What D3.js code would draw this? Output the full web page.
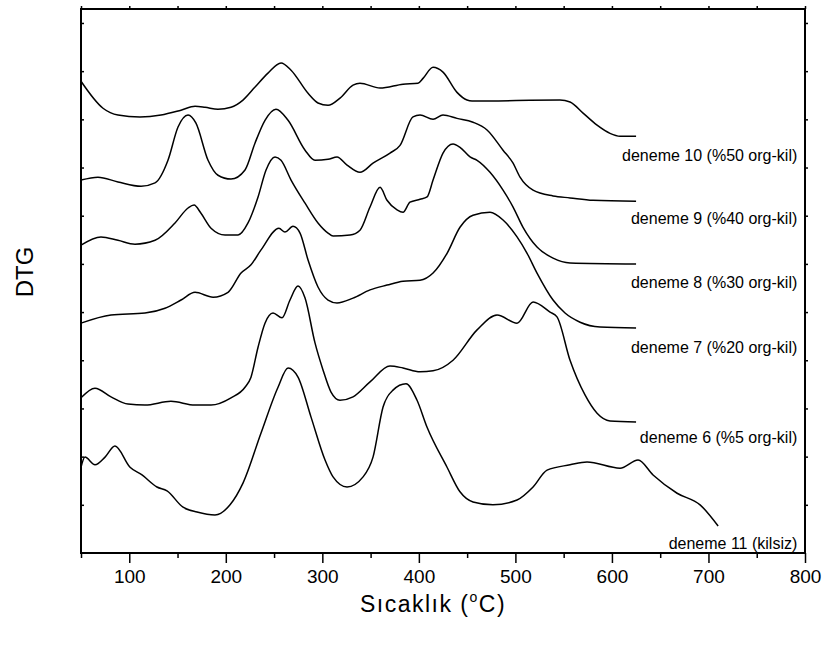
<!DOCTYPE html>
<html>
<head>
<meta charset="utf-8">
<script src="https://cdn.jsdelivr.net/npm/d3@7"></script>
<style>
  body { margin: 0; background: #fff; }
  text { font-family: "Liberation Sans", Arial, sans-serif; fill: #000; }
</style>
</head>
<body>
<svg id="chart" width="825" height="645"></svg>
<script>
// temperature (°C) and DTG values (stacked, arbitrary units)
const tempD10 = [50, 72.8, 88.3, 111.1, 132.9, 153.6, 168.1, 178.5, 191.9, 205.4, 217.8, 230.3, 243.7, 257.2, 267.6, 285.2, 295.5, 305.9, 318.3, 331.8, 339, 359.8, 383.6, 399.1, 404.3, 414.7, 425, 439.5, 449.9, 455.1, 546.2, 556.6, 570.1, 584.6, 598, 608.4, 625];
const dtgD10 = [9.79, 9.23, 9.09, 9.05, 9.09, 9.19, 9.27, 9.25, 9.21, 9.25, 9.40, 9.67, 9.96, 10.17, 10.02, 9.54, 9.34, 9.29, 9.44, 9.71, 9.75, 9.65, 9.73, 9.75, 9.85, 10.08, 9.98, 9.56, 9.40, 9.38, 9.40, 9.36, 9.13, 8.88, 8.71, 8.65, 8.65];

const tempD9 = [50, 67.6, 88.3, 112.2, 126.7, 140.1, 150.5, 160.9, 169.1, 181.6, 191.9, 205.4, 219.9, 230.3, 240.6, 252, 264.5, 282.1, 292.4, 305.9, 315.2, 325.6, 339, 352.5, 370.1, 380.5, 393.9, 401.2, 414.7, 425, 439.5, 456.1, 470.6, 487.2, 497.6, 504.8, 518.3, 539, 556.6, 580.4, 625];
const dtgD9 = [7.74, 7.80, 7.70, 7.61, 7.68, 8.15, 8.84, 9.09, 8.92, 8.15, 7.84, 7.76, 7.95, 8.51, 8.98, 9.21, 8.98, 8.36, 8.15, 8.17, 8.22, 8.05, 7.90, 8.09, 8.30, 8.46, 9.05, 9.09, 9.00, 9.09, 9.02, 8.94, 8.78, 8.36, 8.09, 7.80, 7.53, 7.41, 7.37, 7.32, 7.30];

const tempD8 = [50, 70.7, 88.3, 105.9, 126.7, 147.4, 160.9, 167.1, 174.3, 184.7, 199.2, 212.7, 223, 233.4, 241.7, 251, 257.2, 267.6, 282.1, 295.5, 305.9, 311.1, 328.7, 339, 349.4, 359.8, 367, 377.4, 383.6, 390.8, 401.2, 408.5, 414.7, 425, 435.4, 442.6, 453, 460.3, 473.7, 487.2, 497.6, 507.9, 522.4, 539, 556.6, 625];
const dtgD8 = [6.39, 6.56, 6.49, 6.41, 6.49, 6.85, 7.16, 7.22, 7.05, 6.74, 6.60, 6.60, 6.85, 7.39, 7.95, 8.22, 8.15, 7.74, 7.26, 6.85, 6.64, 6.58, 6.60, 6.70, 7.18, 7.59, 7.32, 7.12, 7.07, 7.28, 7.34, 7.39, 7.74, 8.30, 8.49, 8.42, 8.22, 8.15, 7.90, 7.53, 7.18, 6.76, 6.35, 6.12, 6.02, 6.00];

const tempD7 = [50, 81.1, 116.3, 137, 153.6, 168.1, 186.8, 202.3, 215.8, 226.1, 236.5, 255.1, 261.3, 269.6, 276.9, 285.2, 295.5, 305.9, 315.2, 331.8, 349.4, 367, 383.6, 401.2, 414.7, 429.2, 442.6, 456.1, 473.7, 487.2, 501.7, 512.1, 522.4, 539, 551.4, 567, 587.7, 625];
const dtgD7 = [4.77, 4.94, 4.98, 5.08, 5.25, 5.41, 5.31, 5.41, 5.81, 5.98, 6.29, 6.74, 6.66, 6.78, 6.64, 6.08, 5.52, 5.25, 5.19, 5.29, 5.46, 5.56, 5.64, 5.66, 5.81, 6.22, 6.76, 7.01, 7.07, 6.91, 6.56, 6.22, 5.81, 5.25, 4.98, 4.79, 4.69, 4.67];

const tempD6 = [50, 64.5, 81.1, 98.7, 116.3, 143.2, 168.1, 184.7, 205.4, 219.9, 226.1, 233.4, 240.6, 248.9, 258.2, 266.5, 274.8, 282.1, 292.4, 300.7, 309, 318.3, 331.8, 349.4, 370.1, 383.6, 401.2, 414.7, 435.4, 460.3, 481, 501.7, 518.3, 535.9, 543.1, 556.6, 572.1, 584.6, 598, 625];
const dtgD6 = [3.22, 3.42, 3.24, 3.09, 3.07, 3.15, 3.07, 3.07, 3.22, 3.44, 3.65, 4.27, 4.77, 4.98, 4.88, 5.25, 5.54, 5.29, 4.36, 3.80, 3.34, 3.17, 3.24, 3.55, 3.88, 3.84, 3.76, 3.78, 4.00, 4.63, 4.94, 4.77, 5.21, 5.00, 4.90, 4.00, 3.28, 2.90, 2.74, 2.72];

const tempD11 = [50, 54.1, 64.5, 74.9, 85.2, 100.8, 113.2, 128.7, 139.1, 155.7, 170.2, 188.8, 204.4, 217.8, 236.5, 254.1, 264.5, 274.8, 288.3, 302.8, 311.1, 325.6, 342.2, 352.5, 362.9, 373.2, 386.7, 398.1, 408.5, 429.2, 442.6, 456.1, 476.8, 501.7, 518.3, 532.8, 556.6, 574.2, 608.4, 627.1, 642.6, 667.5, 691.3, 710];
const dtgD11 = [1.78, 1.99, 1.83, 1.99, 2.22, 1.78, 1.62, 1.37, 1.29, 0.95, 0.85, 0.79, 1.00, 1.45, 2.49, 3.44, 3.84, 3.65, 2.82, 1.93, 1.58, 1.37, 1.58, 1.99, 3.03, 3.38, 3.51, 3.17, 2.61, 1.78, 1.27, 1.06, 1.00, 1.10, 1.37, 1.72, 1.83, 1.89, 1.76, 1.93, 1.62, 1.24, 1.00, 0.56];

const seriesNames = ["deneme 10 (%50 org-kil)", "deneme 9 (%40 org-kil)", "deneme 8 (%30 org-kil)", "deneme 7 (%20 org-kil)", "deneme 6 (%5 org-kil)", "deneme 11 (kilsiz)"];
const seriesTemps = [tempD10, tempD9, tempD8, tempD7, tempD6, tempD11];
const seriesDtg = [dtgD10, dtgD9, dtgD8, dtgD7, dtgD6, dtgD11];
// label baselines (DTG units) and right end (°C)
const labelDtg = [8.13, 6.83, 5.50, 4.15, 2.28, 0.08];
const labelTemp = 792;

const xTicks = [100, 200, 300, 400, 500, 600, 700, 800];
const xMinorTicks = [50, 150, 250, 350, 450, 550, 650, 750];
const yTicks = [1, 2, 3, 4, 5, 6, 7, 8, 9, 10, 11];

function main() {
    const svg = d3.select("#chart");

    /** plot area */
    const left = 81, right = 805, top = 9, bottom = 553;

    const x = d3.scaleLinear().domain([50, 800]).range([left, right]);
    const y = d3.scaleLinear().domain([0, 11.29]).range([bottom, top]);

    // curves
    const line = d3.line()
        .x(d => x(d[0]))
        .y(d => y(d[1]))
        .curve(d3.curveMonotoneX);

    for (let i = 0; i < seriesNames.length; i++) {
        const pts = seriesTemps[i].map((t, j) => [t, seriesDtg[i][j]]);
        svg.append("path")
            .attr("d", line(pts))
            .attr("fill", "none")
            .attr("stroke", "#000")
            .attr("stroke-width", 1.5)
            .attr("stroke-linejoin", "round");

        svg.append("text")
            .attr("x", x(labelTemp))
            .attr("y", y(labelDtg[i]))
            .attr("text-anchor", "end")
            .attr("font-size", 16)
            .text(seriesNames[i]);
    }

    // bottom axis: major ticks with labels, minor ticks without
    const xAxis = svg.append("g")
        .attr("transform", `translate(0,${bottom})`)
        .call(d3.axisBottom(x).tickValues(xTicks).tickSize(10).tickPadding(7));
    xAxis.selectAll("text").attr("font-size", 19).attr("font-family", "Liberation Sans, Arial, sans-serif");
    svg.append("g")
        .attr("transform", `translate(0,${bottom})`)
        .call(d3.axisBottom(x).tickValues(xMinorTicks).tickSize(5).tickFormat(""));

    // top axis, short outward ticks
    svg.append("g")
        .attr("transform", `translate(0,${top})`)
        .call(d3.axisTop(x).tickValues(xTicks.concat(xMinorTicks)).tickSize(3).tickFormat(""));

    // left axis, short inward ticks
    svg.append("g")
        .attr("transform", `translate(${left},0)`)
        .call(d3.axisLeft(y).tickValues(yTicks).tickSize(-3).tickFormat(""));

    // right axis, short outward ticks
    svg.append("g")
        .attr("transform", `translate(${right},0)`)
        .call(d3.axisRight(y).tickValues(yTicks).tickSize(3).tickFormat(""));

    svg.selectAll(".domain").remove();
    svg.selectAll(".tick line").attr("stroke", "#000").attr("stroke-width", 1.5);

    // frame
    svg.append("rect")
        .attr("x", left)
        .attr("y", top)
        .attr("width", right - left)
        .attr("height", bottom - top)
        .attr("fill", "none")
        .attr("stroke", "#000")
        .attr("stroke-width", 2);

    // axis titles
    const xTitle = svg.append("text")
        .attr("x", 433)
        .attr("y", 612)
        .attr("text-anchor", "middle")
        .attr("font-size", 23)
        .attr("letter-spacing", 1.5);
    xTitle.append("tspan").text("Sıcaklık (");
    xTitle.append("tspan").attr("font-size", 14).attr("dy", -10).text("o");
    xTitle.append("tspan").attr("dy", 10).text("C)");

    svg.append("text")
        .attr("transform", `translate(33,${272}) rotate(-90)`)
        .attr("text-anchor", "middle")
        .attr("font-size", 24)
        .text("DTG");
}

main();
</script>
</body>
</html>
